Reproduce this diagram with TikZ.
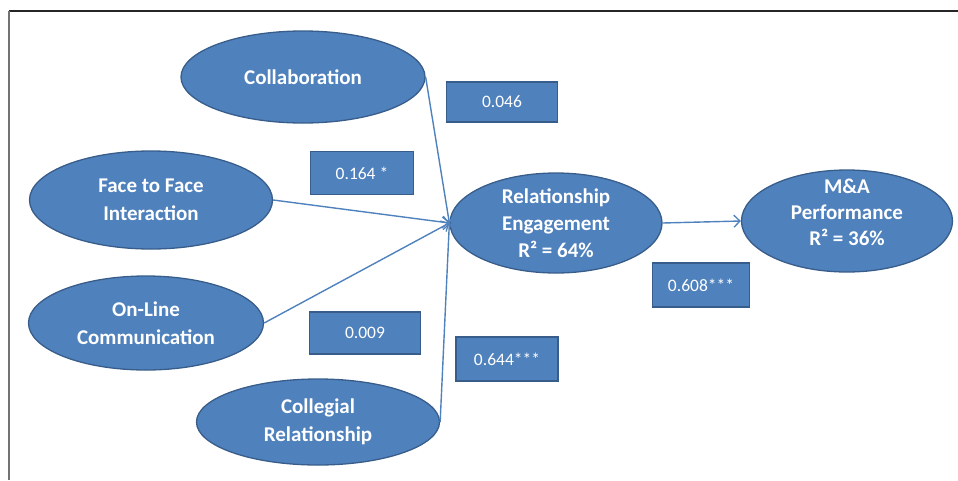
\documentclass[tikz,border=0pt]{standalone}
\usepackage{fontspec}
\setmainfont{Carlito}
\usetikzlibrary{shapes.geometric,arrows.meta}
\definecolor{ofill}{HTML}{4F81BD}
\definecolor{oedge}{HTML}{385D8A}
\tikzset{
  construct/.style={ellipse,draw=oedge,fill=ofill,line width=1.3pt,inner sep=0pt,
    text=white,font=\fontsize{21}{28.5}\selectfont\bfseries,align=center},
  ctext/.style={inner sep=0pt,text=white,font=\fontsize{21}{26}\selectfont\bfseries,align=center},
  coef/.style={rectangle,draw=oedge,fill=ofill,line width=1.3pt,inner sep=0pt,
    text=white,font=\fontsize{17.5}{20}\selectfont},
  path/.style={draw=ofill,line width=1.4pt,-{Straight Barb[length=6pt,width=12pt,line width=1.3pt]}},
  frame/.style={line width=1.2pt}
}
\begin{document}
\begin{tikzpicture}[x=1pt,y=-1pt]
\useasboundingbox (0,0) rectangle (958,480);
\draw[frame,draw=black!85] (9,11) -- (958,11);
\draw[frame,draw=black!55] (9,11) -- (9,480);

\node[construct,minimum width=244pt,minimum height=92pt] (col) at (303,77) {Collaboration};
\node[construct,minimum width=243pt,minimum height=98pt] (ftf) at (151,200) {Face to Face\\Interaction};
\node[construct,minimum width=235pt,minimum height=94pt] (onl) at (146,323) {On-Line\\Communication};
\node[construct,minimum width=243pt,minimum height=86pt] (cr) at (318,422) {Collegial\\Relationship};
\node[construct,minimum width=212pt,minimum height=100pt,font=\fontsize{21}{27}\selectfont\bfseries] (re) at (556,223) {Relationship\\Engagement\\R² = 64\%};
\node[construct,minimum width=211pt,minimum height=102pt] (map) at (847,221) {};
\node[ctext] (maptxt) at (847,212) {M\&A\\Performance\\R² = 36\%};

\node[coef,minimum width=111pt,minimum height=40pt] (b1) at (502,102) {0.046};
\node[coef,minimum width=103pt,minimum height=43pt] (b2) at (362,173) {0.164 *};
\node[coef,minimum width=111pt,minimum height=42pt] (b3) at (365,333) {0.009};
\node[coef,minimum width=102pt,minimum height=44pt] (b4) at (507,359) {0.644***};
\node[coef,minimum width=97pt,minimum height=44pt] (b5) at (701,285) {0.608***};

\draw[path] (col.east) -- (re.west);
\draw[path] (ftf.east) -- (re.west);
\draw[path] (onl.east) -- (re.west);
\draw[path] (cr.east) -- (re.west);
\draw[path] (re.east) -- (map.west);
\end{tikzpicture}
\end{document}
